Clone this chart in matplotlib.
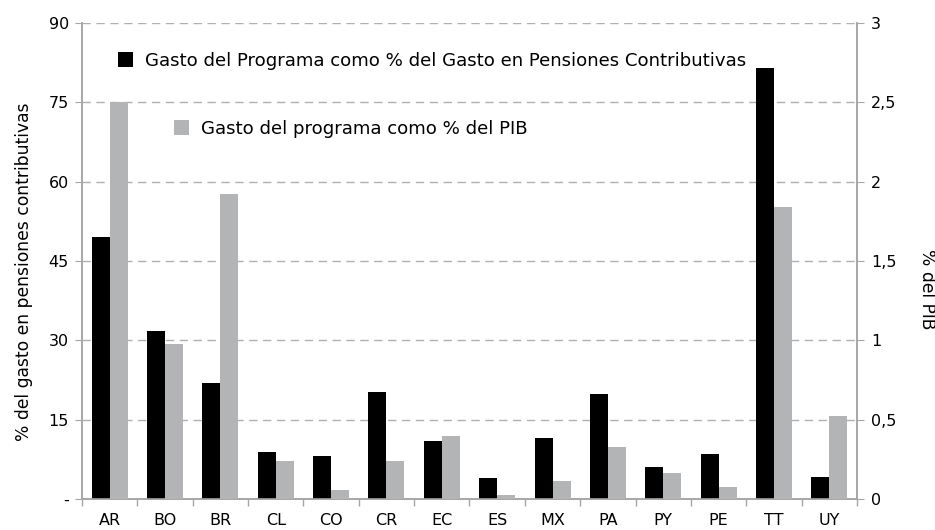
import matplotlib
matplotlib.use("Agg")
import matplotlib.pyplot as plt
import numpy as np

plt.rcParams['font.family'] = ['DejaVu Sans']

countries = ["AR", "BO", "BR", "CL", "CO", "CR", "EC", "ES", "MX", "PA", "PY", "PE", "TT", "UY"]
pct_pensiones = [49.5, 31.8, 22.0, 8.9, 8.1, 20.2, 10.9, 3.9, 11.5, 19.8, 6.1, 8.5, 81.5, 4.1]
pct_pib = [2.50, 0.98, 1.92, 0.24, 0.057, 0.24, 0.40, 0.025, 0.115, 0.33, 0.164, 0.074, 1.84, 0.52]
left_ticks = [0, 15, 30, 45, 60, 75, 90]
left_labels = ["-", "15", "30", "45", "60", "75", "90"]
right_ticks = [0, 0.5, 1, 1.5, 2, 2.5, 3]
right_labels = ["0", "0,5", "1", "1,5", "2", "2,5", "3"]
label_black = "Gasto del Programa como % del Gasto en Pensiones Contributivas"
label_gray = "Gasto del programa como % del PIB"

W, H = 935, 530
fig = plt.figure(figsize=(W / 100, H / 100), dpi=100)
ax = fig.add_axes([82 / W, 31 / H, (857 - 82) / W, (499 - 23) / H])
ax2 = ax.twinx()

axis_col = "#a6a6a6"
black = "#000000"
gray = "#b3b4b6"
x = np.arange(len(countries))
w = 0.325

b1 = ax.bar(x - w / 2, pct_pensiones, width=w, color=black, zorder=3)
b2 = ax2.bar(x + w / 2, pct_pib, width=w, color=gray, zorder=3)

ax.set_xlim(-0.5, len(countries) - 0.5)
ax.set_ylim(0, 90)
ax2.set_ylim(0, 3)
ax.set_yticks(left_ticks)
ax.set_yticklabels(left_labels)
ax2.set_yticks(right_ticks)
ax2.set_yticklabels(right_labels)

ax.set_xticks(x)
ax.set_xticklabels(countries)
ax.set_xticks(np.arange(-0.5, len(countries), 1), minor=True)
ax.tick_params(axis='x', which='major', length=0, pad=10, labelsize=11.5)
ax.tick_params(axis='x', which='minor', length=5, color=axis_col, width=1)
ax.tick_params(axis='y', length=5, color=axis_col, labelsize=11.5, pad=4.5)
ax2.tick_params(axis='y', length=5, color=axis_col, labelsize=11.5, pad=5)

ax.grid(axis='y', linestyle=(0, (6, 4)), color="#b0b0b0", linewidth=1, zorder=0)
ax.set_axisbelow(True)

for a in (ax, ax2):
    a.spines['top'].set_visible(False)
    for s in ('left', 'right', 'bottom'):
        a.spines[s].set_color(axis_col)
        a.spines[s].set_linewidth(1.2)

ax.set_ylabel("% del gasto en pensiones contributivas", fontsize=12.3)
ax.yaxis.set_label_coords(-(82 - 33) / 775, (499 - 272) / 476)
ax2.set_ylabel("% del PIB", fontsize=12.3, rotation=270, va='center')
ax2.yaxis.set_label_coords(1 + (927 - 857) / 775, (499 - 289) / 476)

leg1 = fig.legend([b1], [label_black], loc='center left',
                  bbox_to_anchor=(118 / W, 1 - 61 / H), frameon=False,
                  borderpad=0, borderaxespad=0, handlelength=0.85, handleheight=0.85,
                  handletextpad=0.65, fontsize=13.1)
leg2 = fig.legend([b2], [label_gray], loc='center left',
                  bbox_to_anchor=(174 / W, 1 - 129 / H), frameon=False,
                  borderpad=0, borderaxespad=0, handlelength=0.85, handleheight=0.85,
                  handletextpad=0.65, fontsize=13.1)

fig.savefig("out.png", dpi=100)
